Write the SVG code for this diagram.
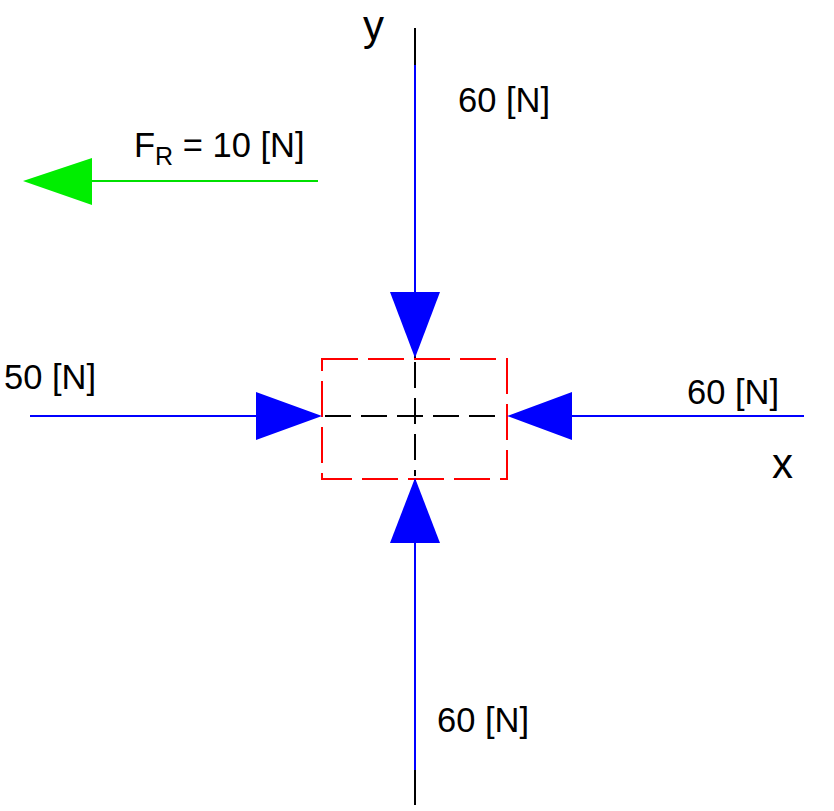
<svg xmlns="http://www.w3.org/2000/svg" width="834" height="811" viewBox="0 0 834 811">
<style>
text{font-family:"Liberation Sans",Arial,sans-serif;fill:#000}
.lbl{font-size:34.5px}
.ax{font-size:42px}
.blue{stroke:#0000ff;stroke-width:2;fill:none}
.head{fill:#0000ff}
</style>
<rect width="834" height="811" fill="#fff"/>
<g id="axes">
<line x1="415" y1="28" x2="415" y2="805" stroke="#000" stroke-width="2"/>
<text class="ax" x="363" y="40">y</text>
<text class="ax" x="772" y="478">x</text>
</g>
<g id="box">
<rect x="322" y="359" width="185" height="120" fill="#fff" stroke="#ff0000" stroke-width="2" stroke-dasharray="36,10"/>
<line x1="415" y1="362" x2="415" y2="476" stroke="#000" stroke-width="2" stroke-dasharray="26,10"/>
<line x1="325" y1="416" x2="505" y2="416" stroke="#000" stroke-width="2" stroke-dasharray="26,10"/>
</g>
<g id="connectors">
<g id="force-top">
<line class="blue" x1="415" y1="65" x2="415" y2="300"/>
<polygon class="head" points="390,292 440,292 415,358"/>
</g>
<g id="force-bottom">
<line class="blue" x1="415" y1="535" x2="415" y2="770"/>
<polygon class="head" points="390,543 440,543 415,478"/>
</g>
<g id="force-left">
<line class="blue" x1="30" y1="416" x2="262" y2="416"/>
<polygon class="head" points="256,392 256,440 322,416"/>
</g>
<g id="force-right">
<line class="blue" x1="565" y1="416" x2="804" y2="416"/>
<polygon class="head" points="572,392 572,440 507,416"/>
</g>
<g id="resultant">
<line x1="85" y1="181" x2="318" y2="181" stroke="#00e000" stroke-width="2"/>
<polygon points="92,158 92,205 23,181" fill="#00ee00"/>
</g>
</g>
<g id="labels">
<text class="lbl" x="458" y="112">60 [N]</text>
<text class="lbl" x="437" y="732">60 [N]</text>
<text class="lbl" x="4" y="389">50 [N]</text>
<text class="lbl" x="687" y="404">60 [N]</text>
<text class="lbl" x="134" y="157">F<tspan font-size="25" dy="8">R</tspan><tspan dy="-8"> = 10 [N]</tspan></text>
</g>
</svg>
